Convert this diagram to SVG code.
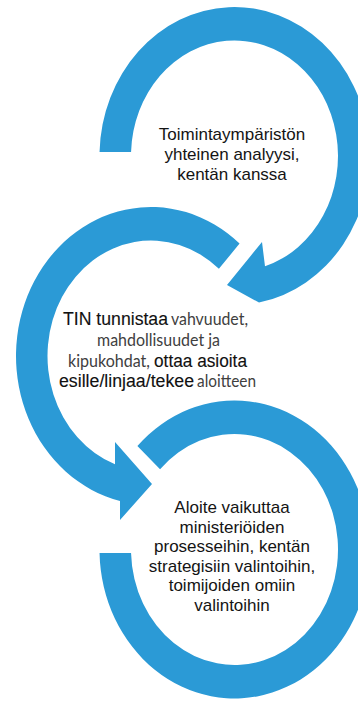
<svg xmlns="http://www.w3.org/2000/svg" width="358" height="702" viewBox="0 0 358 702">
<style>
.ring{fill:#2B9AD6;stroke:none}
.t{font-family:"Liberation Sans",Arial,sans-serif;font-size:17px;fill:#141414;text-anchor:middle}
.dk{font-family:"Liberation Sans",Arial,sans-serif;font-size:17.5px;fill:#111;stroke:#111;stroke-width:0.12px}
.lt{font-family:Lato,"Open Sans",sans-serif;font-size:17px;fill:#404040}
</style>
<rect width="358" height="702" fill="#ffffff"/>
<g id="connectors">
<path id="arrow-1" class="ring" d="M 99.55 152 A 135 149 0 1 1 259 302.53 L 227 285 L 262 242 L 265 266.37 A 103.5 115.5 0 1 0 131.06 152 Z"/>
<path id="arrow-2" class="ring" d="M 239.57 243.55 A 135 149 0 1 0 120 501.02 L 120 520 L 152 484 L 115 442 L 115 464.29 A 103.5 115.5 0 1 1 218.9 268.83 Z"/>
<path id="arrow-3" class="ring" d="M 137.39 446 A 135 149 0 1 1 99.54 553 L 131.05 553 A 103.5 115.5 0 1 0 160.05 469.27 Z"/>
</g>
<g id="node-1">
<text class="t" x="232" y="140">Toimintaympäristön</text>
<text class="t" x="232" y="160">yhteinen analyysi,</text>
<text class="t" x="232" y="180">kentän kanssa</text>
</g>
<g id="node-2">
<text class="dk" x="63" y="325" textLength="105" lengthAdjust="spacingAndGlyphs">TIN tunnistaa</text>
<text class="lt" x="171" y="325" textLength="77" lengthAdjust="spacingAndGlyphs">vahvuudet,</text>
<text class="lt" x="97" y="346" textLength="123" lengthAdjust="spacingAndGlyphs">mahdollisuudet ja</text>
<text class="lt" x="68" y="366.5" textLength="82" lengthAdjust="spacingAndGlyphs">kipukohdat,</text>
<text class="dk" x="154" y="366.5" textLength="93" lengthAdjust="spacingAndGlyphs">ottaa asioita</text>
<text class="dk" x="59" y="387" textLength="135" lengthAdjust="spacingAndGlyphs">esille/linjaa/tekee</text>
<text class="lt" x="197" y="387" textLength="59" lengthAdjust="spacingAndGlyphs">aloitteen</text>
</g>
<g id="node-3">
<text class="t" x="232" y="513">Aloite vaikuttaa</text>
<text class="t" x="232" y="532.5">ministeriöiden</text>
<text class="t" x="232" y="552">prosesseihin, kentän</text>
<text class="t" x="232" y="571.5">strategisiin valintoihin,</text>
<text class="t" x="232" y="591">toimijoiden omiin</text>
<text class="t" x="232" y="610.5">valintoihin</text>
</g>
</svg>
